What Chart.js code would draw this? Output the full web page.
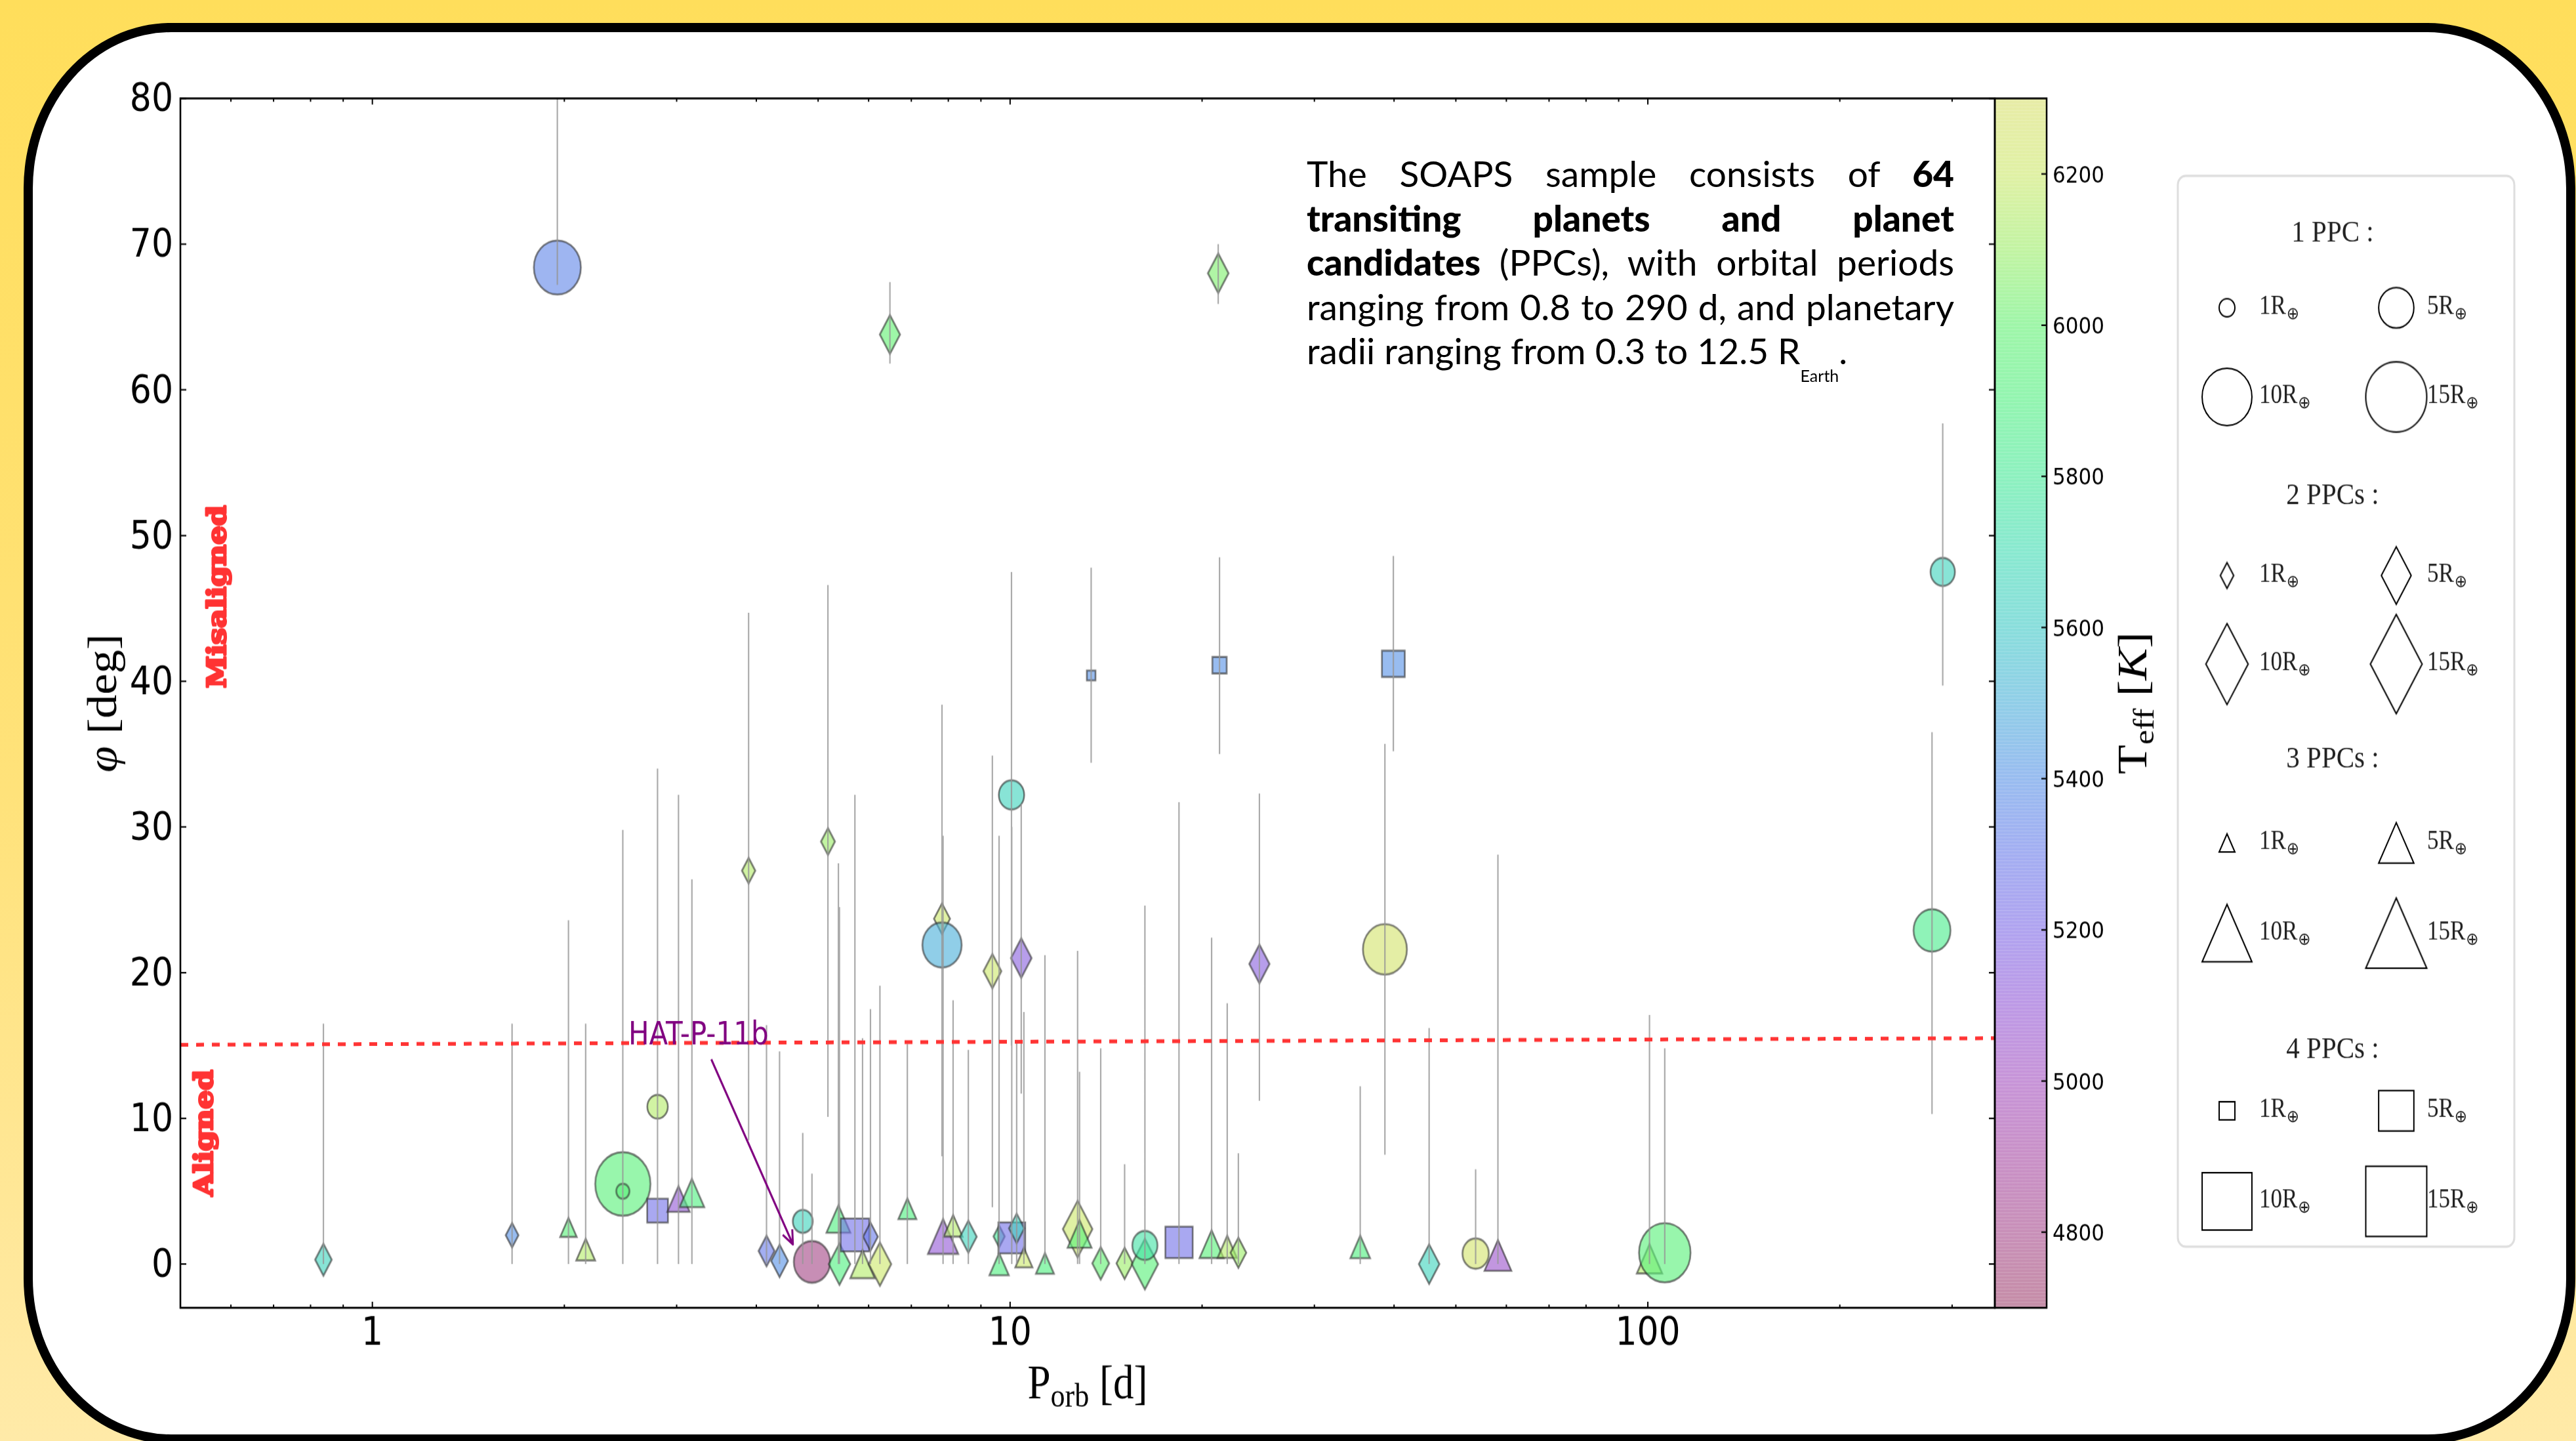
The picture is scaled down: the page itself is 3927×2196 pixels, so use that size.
<!DOCTYPE html>
<html>
<head>
<meta charset="utf-8">
<script src="https://cdn.jsdelivr.net/npm/chart.js@4.4.1/dist/chart.umd.min.js"></script>
<style>
  html, body { margin: 0; padding: 0; width: 3927px; height: 2196px; overflow: hidden; }
  body { position: relative; background: linear-gradient(180deg, #ffde5b 0%, #ffe27a 55%, #ffeaa8 100%); }
  #panel { position: absolute; left: 36px; top: 35px; width: 3862px; height: 2137px;
           border: 14px solid #000; border-radius: 225px / 252px; background: #fff; }
  /* the figure was pasted into the slide with a vertical stretch */
  #stage { position: absolute; left: 0; top: 0; width: 3927px; height: 1910px;
           transform: scaleY(1.15); transform-origin: 0 0; }
  #note { position: absolute; left: 1992px; top: 231px; width: 987px;
          font-family: Lato, "Open Sans", sans-serif; font-size: 55px; line-height: 67.5px; color: #000; }
  #note div { text-align: justify; text-align-last: justify; }
  #note div.last { text-align: left; text-align-last: left; }
  #note b { font-weight: 900; }
  #note sub { font-size: 25px; vertical-align: -27px; line-height: 0; }
</style>
</head>
<body>
<div id="panel"></div>
<div id="stage"><canvas id="c" width="3927" height="1910"></canvas></div>
<div id="note">
  <div>The SOAPS sample consists of <b>64</b></div>
  <div><b>transiting planets and planet</b></div>
  <div><b>candidates</b> (PPCs), with orbital periods</div>
  <div>ranging from 0.8 to 290 d, and planetary</div>
  <div class="last">radii ranging from 0.3 to 12.5 R<sub>Earth</sub>.</div>
</div>
<script>
// values (one entry per planet / candidate)
const period = [0.838, 1.656, 1.95, 2.03, 2.16, 2.47, 2.47, 2.80, 2.80, 3.02, 3.17, 3.89, 4.15, 4.35, 4.73, 4.89,
  5.18, 5.38, 5.40, 5.71, 5.87, 6.04, 6.25, 6.48, 6.90, 7.82, 7.82, 7.85, 8.14, 8.60, 9.38, 9.61, 9.61, 10.05,
  10.06, 10.24, 10.41, 10.51, 11.34, 12.76, 12.85, 13.4, 13.87, 15.12, 16.27, 16.27, 18.4, 20.7, 21.2, 21.3,
  21.9, 22.8, 24.6, 35.4, 38.7, 39.9, 45.4, 53.7, 58.2, 100.6, 106.3, 279, 290];
const phi = [0.3, 1.98, 68.4, 2.52, 1.0, 5.5, 5.0, 3.67, 10.8, 4.47, 4.88, 27.0, 0.9, 0.22, 2.93, 0.15,
  29.0, 3.1, 0.0, 2.0, 0.0, 1.88, 0.0, 63.8, 3.8, 23.7, 21.9, 1.9, 2.63, 1.88, 20.1, 1.9, 0.0, 32.2,
  1.8, 2.45, 21.0, 0.45, 0.05, 2.4, 2.07, 40.4, 0.05, 0.05, 0.0, 1.28, 1.49, 1.37, 68.0, 41.1,
  1.19, 0.78, 20.6, 1.18, 21.6, 41.2, 0.0, 0.72, 0.6, 0.36, 0.78, 22.9, 47.5];
const phiLo = [0, 0, 67.2, 0, 0, 0, 0, 0, 0, 0, 0, 8.5, 0, 0, 0, 0,
  10.1, 0, 0, 0, 0, 0, 0, 61.8, 0, 7.4, 8, 0, 0, 0, 3.9, 0, 0, 15,
  0, 0, 11.7, 0, 0, 0, 0, 34.4, 0, 0, 0, 0, 0, 0, 65.9, 35.0,
  0, 0, 11.2, 0, 7.5, 35.2, 0, 0, 0, 0, 0, 10.3, 39.7];
const phiHi = [16.5, 16.5, 90, 23.6, 16.5, 12.6, 29.8, 24.6, 34.0, 32.2, 26.4, 44.7, 16.4, 14.6, 9.0, 6.2,
  46.6, 27.5, 24.5, 32.2, 15.5, 17.5, 19.1, 67.4, 15.1, 38.4, 35, 29.4, 18.1, 14.7, 34.9, 29.4, 10, 47.5,
  30, 15.2, 31.6, 17.3, 21.2, 21.5, 13.2, 47.8, 14.8, 6.85, 20, 24.6, 31.7, 22.4, 70.0, 48.5,
  17.9, 7.6, 32.3, 12.2, 35.7, 48.6, 16.2, 6.5, 28.1, 17.1, 14.8, 36.5, 57.7];
const radius = [1.55, 0.92, 8.9, 1.1, 1.43, 12.3, 0.7, 1.73, 1.7, 2.0, 2.45, 1.0, 1.43, 1.6, 1.6, 5.3,
  1.1, 2.3, 2.6, 3.3, 2.4, 1.23, 2.86, 2.3, 1.3, 1.45, 6.2, 3.7, 1.43, 1.58, 1.8, 0.72, 1.5, 2.6,
  2.9, 1.33, 2.4, 1.18, 1.3, 4.9, 2.3, 0.3, 1.6, 1.5, 3.9, 2.55, 3.0, 2.35, 2.4, 0.82,
  1.5, 1.39, 2.3, 1.55, 7.8, 2.1, 2.37, 2.8, 2.9, 2.6, 10.7, 5.5, 2.4];
const nPPC = [2, 2, 1, 3, 3, 1, 1, 4, 1, 3, 3, 2, 2, 2, 1, 1,
  2, 3, 2, 4, 3, 2, 2, 2, 3, 2, 1, 3, 3, 2, 2, 2, 3, 1,
  4, 2, 2, 3, 3, 2, 3, 4, 2, 2, 2, 1, 4, 3, 2, 4,
  3, 2, 2, 3, 1, 4, 2, 1, 3, 3, 1, 1, 1];
const teff = [5650, 5400, 5350, 5950, 6150, 5950, 5950, 5250, 6150, 5100, 5900, 6150, 5300, 5400, 5650, 4780,
  6100, 5900, 5900, 5250, 6150, 5300, 6200, 6000, 5900, 6200, 5500, 5100, 6150, 5650, 6200, 5800, 5900, 5650,
  5250, 5650, 5150, 6200, 5900, 6200, 5950, 5400, 6000, 6100, 5950, 5750, 5250, 5950, 6050, 5400,
  6150, 6100, 5150, 5900, 6250, 5400, 5650, 6250, 5050, 6150, 5950, 5850, 5650];

// aligned / misaligned boundary as drawn
const limitP = [0.5, 350];
const limitPhi = [15.05, 15.5];

// axes
const xMin = 0.5, xMax = 350, yMin = -3, yMax = 80;
const yTicks = [0, 10, 20, 30, 40, 50, 60, 70, 80];
const xMajor = [1, 10, 100];
const xMinor = [0.6, 0.7, 0.8, 0.9, 2, 3, 4, 5, 6, 7, 8, 9, 20, 30, 40, 50, 60, 70, 80, 90, 200, 300];
const cbMin = 4700, cbMax = 6300;
const cbTicks = [4800, 5000, 5200, 5400, 5600, 5800, 6000, 6200];
const legendTitles = ['1 PPC :', '2 PPCs :', '3 PPCs :', '4 PPCs :'];
const legendRadii = [1, 5, 10, 15];

// colour map as it looks on the colour bar (Teff -> colour on white)
const cmap = [
  [4700, '#c58ca6'], [4800, '#c88fb8'], [4900, '#c990c7'], [5000, '#c794d8'], [5100, '#bd99e6'],
  [5200, '#b0a3f0'], [5300, '#a3aef2'], [5400, '#98bcf0'], [5500, '#90cee8'], [5600, '#88dedc'],
  [5700, '#88e9d0'], [5800, '#8cf1bf'], [5900, '#92f5b0'], [6000, '#9ef6a8'], [6100, '#c2f4a2'],
  [6200, '#e0f1a4'], [6300, '#e8eca6']
];
const ALPHA = 0.62;

function hexToRgb(h) {
  const n = parseInt(h.slice(1), 16);
  return [(n >> 16) & 255, (n >> 8) & 255, n & 255];
}
function teffColor(t) {
  for (let i = 0; i < cmap.length - 1; i++) {
    const [t0, c0] = cmap[i], [t1, c1] = cmap[i + 1];
    if (t <= t1 || i === cmap.length - 2) {
      const f = Math.max(0, Math.min(1, (t - t0) / (t1 - t0)));
      const a = hexToRgb(c0), b = hexToRgb(c1);
      return a.map((v, k) => v + (b[k] - v) * f);
    }
  }
}
// translucent fill that gives the observed colour on white
function fillFor(t) {
  const c = teffColor(t).map(v => Math.max(0, Math.min(255, (v - 255 * (1 - ALPHA)) / ALPHA)));
  return `rgba(${c.map(Math.round).join(',')},${ALPHA})`;
}

// marker images: circle (1 PPC), thin diamond (2), triangle (3), square (4); size ~ sqrt(R)
function makeMarker(shape, R, fill, stroke, lw) {
  const d = 24 * Math.sqrt(R);
  let w = d, h = d;
  if (shape === 2) { h = d * Math.SQRT2; w = h * 0.6; }
  const c = document.createElement('canvas');
  c.width = Math.ceil(w + lw * 2 + 2);
  c.height = Math.ceil(h + lw * 2 + 2);
  const g = c.getContext('2d');
  g.translate(c.width / 2, c.height / 2);
  g.beginPath();
  if (shape === 1) g.arc(0, 0, d / 2, 0, Math.PI * 2);
  else if (shape === 2) { g.moveTo(0, -h / 2); g.lineTo(w / 2, 0); g.lineTo(0, h / 2); g.lineTo(-w / 2, 0); g.closePath(); }
  else if (shape === 3) { g.moveTo(0, -d / 2); g.lineTo(d / 2, d / 2); g.lineTo(-d / 2, d / 2); g.closePath(); }
  else g.rect(-d / 2, -d / 2, d, d);
  g.fillStyle = fill;
  g.fill();
  g.strokeStyle = stroke;
  g.lineWidth = lw;
  g.stroke();
  return c;
}

const markers = period.map((p, i) => makeMarker(nPPC[i], radius[i], fillFor(teff[i]), 'rgba(45,45,45,0.62)', 2.6));
const points = period.map((p, i) => ({ x: p, y: phi[i] }));
const errLines = [];
period.forEach((p, i) => {
  errLines.push({ x: p, y: phiLo[i] }, { x: p, y: phiHi[i] }, { x: p, y: null });
});
const limitLine = limitP.map((p, i) => ({ x: p, y: limitPhi[i] }));

function drawRich(ctx, segs, x, y) {
  let total = 0;
  segs.forEach(s => { ctx.font = s[1]; total += ctx.measureText(s[0]).width; });
  let cx = x - total / 2;
  segs.forEach(s => {
    ctx.font = s[1];
    ctx.fillText(s[0], cx, y + (s[2] || 0));
    cx += ctx.measureText(s[0]).width;
  });
}

const decor = {
  id: 'decor',
  afterDraw(chart) {
    const { ctx, chartArea: a } = chart;
    const x = chart.scales.x, y = chart.scales.y, cb = chart.scales.cb;
    ctx.save();

    // colour bar (with the faint banding of the original)
    const cbL = a.right, cbR = a.right + 79;
    const grad = ctx.createLinearGradient(0, cb.getPixelForValue(cbMin), 0, cb.getPixelForValue(cbMax));
    cmap.forEach(([t, c]) => grad.addColorStop((t - cbMin) / (cbMax - cbMin), c));
    ctx.fillStyle = grad;
    ctx.fillRect(cbL, a.top, cbR - cbL, a.bottom - a.top);
    ctx.fillStyle = 'rgba(255,255,255,0.18)';
    for (let py = a.top + 2; py < a.bottom; py += 4.4) ctx.fillRect(cbL, py, cbR - cbL, 1.2);
    ctx.strokeStyle = '#000';
    ctx.lineWidth = 2.5;
    ctx.strokeRect(cbL, a.top, cbR - cbL, a.bottom - a.top);
    ctx.lineWidth = 2;
    ctx.beginPath();
    cbTicks.forEach(t => { const py = cb.getPixelForValue(t); ctx.moveTo(cbR, py); ctx.lineTo(cbR - 8, py); });
    ctx.stroke();
    ctx.fillStyle = '#000';
    ctx.font = '31px "DejaVu Sans"';
    ctx.textAlign = 'left';
    ctx.textBaseline = 'alphabetic';
    cbTicks.forEach(t => ctx.fillText(String(t), 3129, cb.getPixelForValue(t) + 11));

    // frame and ticks
    ctx.strokeStyle = '#000';
    ctx.lineWidth = 2.6;
    ctx.strokeRect(a.left, a.top, a.right - a.left, a.bottom - a.top);
    ctx.lineWidth = 2;
    ctx.beginPath();
    xMajor.forEach(v => {
      const px = x.getPixelForValue(v);
      ctx.moveTo(px, a.bottom); ctx.lineTo(px, a.bottom - 8);
      ctx.moveTo(px, a.top); ctx.lineTo(px, a.top + 8);
    });
    xMinor.forEach(v => {
      const px = x.getPixelForValue(v);
      ctx.moveTo(px, a.bottom); ctx.lineTo(px, a.bottom - 4.3);
      ctx.moveTo(px, a.top); ctx.lineTo(px, a.top + 4.3);
    });
    yTicks.forEach(v => {
      const py = y.getPixelForValue(v);
      ctx.moveTo(a.left, py); ctx.lineTo(a.left + 9, py);
      ctx.moveTo(a.right, py); ctx.lineTo(a.right - 9, py);
    });
    ctx.stroke();

    // tick labels
    ctx.font = '52px "DejaVu Sans"';
    ctx.textAlign = 'right';
    yTicks.forEach(v => ctx.fillText(String(v), 264, y.getPixelForValue(v) + 17));
    ctx.textAlign = 'center';
    xMajor.forEach(v => ctx.fillText(String(v), x.getPixelForValue(v), 1782));

    // axis titles
    ctx.textAlign = 'left';
    drawRich(ctx, [['P', '63px "Liberation Serif"'], ['orb', '44px "Liberation Serif"', 11], [' [d]', '63px "Liberation Serif"']],
      (a.left + a.right) / 2, 1853);
    ctx.save();
    ctx.translate(177, (a.top + a.bottom) / 2);
    ctx.rotate(-Math.PI / 2);
    drawRich(ctx, [['\u03c6', 'italic 63px "Liberation Serif"'], [' [deg]', '63px "Liberation Serif"']], 0, 0);
    ctx.restore();
    ctx.save();
    ctx.translate(3272, (a.top + a.bottom) / 2);
    ctx.rotate(-Math.PI / 2);
    drawRich(ctx, [['T', '64px "Liberation Serif"'], ['eff', '44px "Liberation Serif"', 11], [' [', '64px "Liberation Serif"'],
      ['K', 'italic 64px "Liberation Serif"'], [']', '64px "Liberation Serif"']], 0, 0);
    ctx.restore();

    // aligned / misaligned labels (heavy slab face)
    ctx.fillStyle = '#ff3333';
    ctx.strokeStyle = '#ff3333';
    ctx.lineWidth = 3;
    ctx.lineJoin = 'round';
    ctx.font = 'bold 39px "DejaVu Serif"';
    ctx.textAlign = 'center';
    ctx.textBaseline = 'middle';
    [['Misaligned', 0.575, 45.8], ['Aligned', 0.548, 9.0]].forEach(([s, p, f]) => {
      ctx.save();
      ctx.translate(x.getPixelForValue(p), y.getPixelForValue(f));
      ctx.rotate(-Math.PI / 2);
      ctx.strokeText(s, 0, 0);
      ctx.fillText(s, 0, 0);
      ctx.restore();
    });

    // HAT-P-11b annotation
    ctx.fillStyle = '#800080';
    ctx.strokeStyle = '#800080';
    ctx.font = '42px "DejaVu Sans"';
    ctx.textAlign = 'left';
    ctx.textBaseline = 'alphabetic';
    ctx.fillText('HAT-P-11b', x.getPixelForValue(2.52), y.getPixelForValue(15.07));
    const x0 = x.getPixelForValue(3.40), y0 = y.getPixelForValue(14.05);
    const x1 = x.getPixelForValue(4.565), y1 = y.getPixelForValue(1.35);
    const ang = Math.atan2(y1 - y0, x1 - x0);
    ctx.lineWidth = 3;
    ctx.beginPath();
    ctx.moveTo(x0, y0); ctx.lineTo(x1, y1);
    ctx.moveTo(x1 - 20 * Math.cos(ang - 0.42), y1 - 20 * Math.sin(ang - 0.42));
    ctx.lineTo(x1, y1);
    ctx.lineTo(x1 - 20 * Math.cos(ang + 0.42), y1 - 20 * Math.sin(ang + 0.42));
    ctx.stroke();

    // legend
    const lx = 3320, ly = 233, lw = 513, lh = 1419;
    ctx.fillStyle = '#fff';
    ctx.strokeStyle = '#dedede';
    ctx.lineWidth = 3;
    ctx.beginPath();
    ctx.roundRect(lx, ly, lw, lh, 12);
    ctx.fill();
    ctx.stroke();
    const titleY = [320, 668, 1016.5, 1402];
    const rowY = [[407.8, 526], [762.6, 880], [1117, 1236.5], [1472, 1592]];
    const colX = [3395, 3653], labX = [3444, 3700];
    ctx.fillStyle = '#222';
    legendTitles.forEach((t, k) => {
      ctx.textAlign = 'center';
      ctx.font = '41px "Liberation Serif"';
      ctx.fillText(t, 3556, titleY[k]);
      legendRadii.forEach((r, j) => {
        const col = j % 2, row = j < 2 ? 0 : 1;
        const img = makeMarker(k + 1, r, 'rgba(255,255,255,0)', '#000', 2);
        ctx.drawImage(img, colX[col] - img.width / 2, rowY[k][row] - img.height / 2);
        ctx.textAlign = 'left';
        const by = rowY[k][row] + 8;
        ctx.font = '35px "Liberation Serif"';
        const s = r + 'R';
        ctx.fillText(s, labX[col], by);
        const wS = ctx.measureText(s).width;
        ctx.font = '23px "DejaVu Sans"';
        ctx.fillText('\u2295', labX[col] + wS + 1, by + 7);
      });
    });
    ctx.restore();
  }
};

new Chart(document.getElementById('c'), {
  type: 'scatter',
  data: {
    datasets: [
      { type: 'line', label: 'limit', data: limitLine, borderColor: '#ff3333', borderWidth: 5,
        borderDash: [12, 12], pointRadius: 0, order: -1 },
      { type: 'line', label: 'errors', data: errLines, borderColor: 'rgba(150,150,150,0.8)', borderWidth: 2.2,
        pointRadius: 0, spanGaps: false, order: 0 },
      { label: 'PPCs', data: points, pointStyle: c => markers[c.dataIndex], pointRadius: 6, order: 1 }
    ]
  },
  options: {
    responsive: false,
    animation: false,
    events: [],
    layout: { padding: { left: 275, right: 886, top: 130.4, bottom: 177 } },
    plugins: { legend: { display: false }, tooltip: { enabled: false } },
    scales: {
      x: { type: 'logarithmic', min: xMin, max: xMax, display: false },
      y: { type: 'linear', min: yMin, max: yMax, display: false },
      cb: { type: 'linear', axis: 'y', position: 'right', min: cbMin, max: cbMax, display: false }
    }
  },
  plugins: [decor]
});
</script>
</body>
</html>
